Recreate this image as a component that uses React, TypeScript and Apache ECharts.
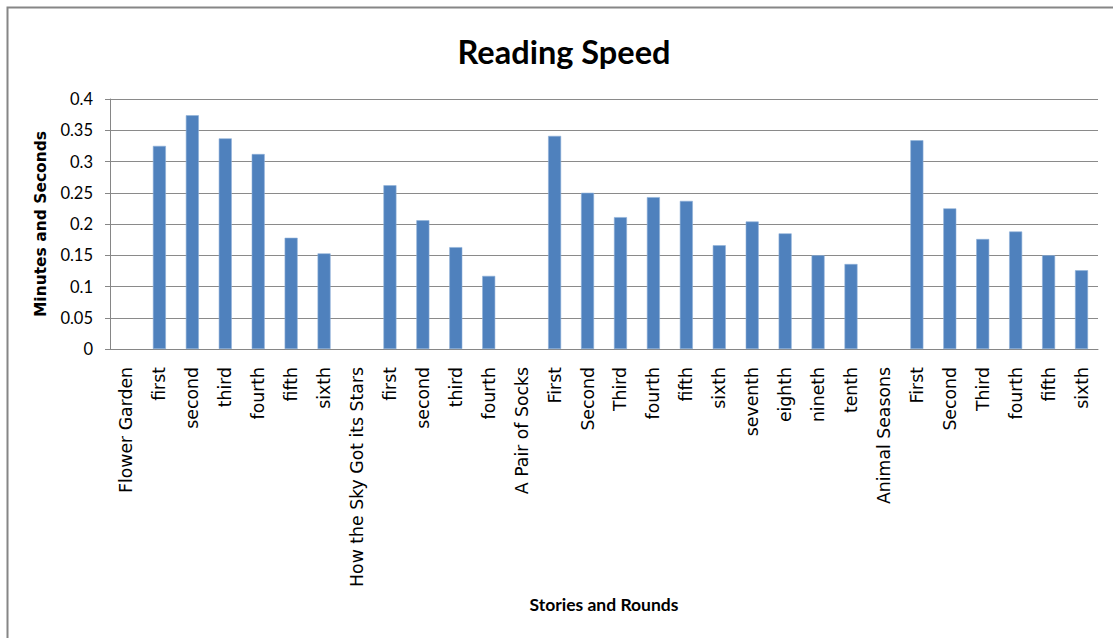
import React, { useEffect, useRef } from "react";
import * as echarts from "echarts";

const categories: string[] = [
  "Flower Garden", "first", "second", "third", "fourth", "fifth", "sixth",
  "How the Sky Got its Stars", "first", "second", "third", "fourth",
  "A Pair of Socks", "First", "Second", "Third", "fourth", "fifth", "sixth",
  "seventh", "eighth", "nineth", "tenth",
  "Animal Seasons", "First", "Second", "Third", "fourth", "fifth", "sixth",
];

const readingSpeed: (number | null)[] = [
  null, 0.325, 0.374, 0.337, 0.312, 0.178, 0.153,
  null, 0.262, 0.206, 0.163, 0.117,
  null, 0.341, 0.25, 0.211, 0.243, 0.237, 0.166, 0.204, 0.185, 0.15, 0.136,
  null, 0.334, 0.225, 0.176, 0.188, 0.15, 0.126,
];

const yMin = 0;
const yMax = 0.4;
const yStep = 0.05;

const chartTitle = "Reading Speed";
const xTitle = "Stories and Rounds";
const yTitle = "Minutes and Seconds";

export default function App() {
  const ref = useRef<HTMLDivElement>(null);

  useEffect(() => {
    if (!ref.current) return;
    const chart = echarts.init(ref.current, null, { renderer: "svg" });
    chart.setOption({
      animation: false,
      backgroundColor: "#ffffff",
      title: {
        text: chartTitle,
        left: 559,
        textAlign: "center",
        top: 30,
        textStyle: {
          fontFamily: "Lato",
          fontWeight: "bold",
          fontSize: 32.5,
          color: "#000000",
        },
      },
      graphic: [
        {
          type: "rect",
          shape: { x: 7.5, y: 7.5, width: 1130, height: 660 },
          style: { fill: "none", stroke: "#868686", lineWidth: 2 },
          silent: true,
        },
      ],
      grid: { left: 110, right: 15, top: 99, bottom: 289, containLabel: false },
      xAxis: {
        type: "category",
        data: categories,
        name: xTitle,
        nameLocation: "middle",
        nameGap: 246,
        nameTextStyle: {
          fontFamily: "Lato",
          fontWeight: "bold",
          fontSize: 17.5,
          color: "#000000",
          verticalAlign: "top",
        },
        axisLine: { lineStyle: { color: "#868686", width: 1 } },
        axisTick: { show: false },
        axisLabel: {
          interval: 0,
          rotate: 90,
          margin: 18,
          fontFamily: "DejaVu Sans",
          fontSize: 17.3,
          color: "#000000",
        },
      },
      yAxis: {
        type: "value",
        min: yMin,
        max: yMax,
        interval: yStep,
        name: yTitle,
        nameLocation: "middle",
        nameGap: 47,
        nameRotate: 90,
        nameTextStyle: {
          fontFamily: "DejaVu Sans",
          fontWeight: "bold",
          fontSize: 15.5,
          color: "#000000",
        },
        axisLine: { show: true, lineStyle: { color: "#868686", width: 1 } },
        axisTick: { show: true, length: 5, lineStyle: { color: "#868686" } },
        axisLabel: {
          margin: 17,
          fontFamily: "Lato",
          fontSize: 16.5,
          color: "#000000",
        },
        splitLine: { show: true, lineStyle: { color: "#8a8a8a", width: 1 } },
      },
      series: [
        {
          type: "bar",
          data: readingSpeed,
          barWidth: 13,
          itemStyle: {
            color: "#4F81BD",
            borderColor: "#8fb0d8",
            borderWidth: 0.6,
          },
        },
      ],
    });
    return () => chart.dispose();
  }, []);

  return (
    <div
      ref={ref}
      style={{ position: "fixed", left: 0, top: 0, width: 1113, height: 638 }}
    />
  );
}
